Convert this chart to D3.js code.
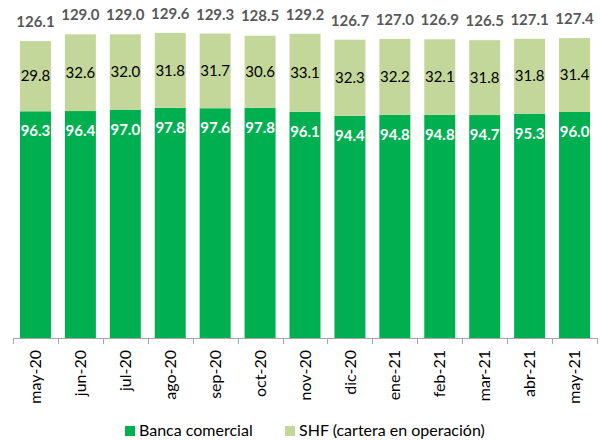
<!DOCTYPE html>
<html>
<head>
<meta charset="utf-8">
<script src="https://cdn.jsdelivr.net/npm/d3@7"></script>
<style>
  body { margin: 0; background: #fff; }
  text { font-family: Lato, "Open Sans", sans-serif; }
</style>
</head>
<body>
<div id="chart"></div>
<script>
// data
var months = ["may-20", "jun-20", "jul-20", "ago-20", "sep-20", "oct-20", "nov-20",
              "dic-20", "ene-21", "feb-21", "mar-21", "abr-21", "may-21"];
var banca = [96.3, 96.4, 97.0, 97.8, 97.6, 97.8, 96.1, 94.4, 94.8, 94.8, 94.7, 95.3, 96.0];
var shf = [29.8, 32.6, 32.0, 31.8, 31.7, 30.6, 33.1, 32.3, 32.2, 32.1, 31.8, 31.8, 31.4];
var totals = [126.1, 129.0, 129.0, 129.6, 129.3, 128.5, 129.2, 126.7, 127.0, 126.9, 126.5, 127.1, 127.4];
var seriesNames = ["Banca comercial", "SHF (cartera en operación)"];

var svgWidth = 600;
var svgHeight = 440;
var colors = ["#00b050", "#c4d79b"];

var svg = d3.select("#chart")
  .append("svg")
  .attr("width", svgWidth)
  .attr("height", svgHeight);

var rows = months.map(function(m, i) {
  return { month: m, banca: banca[i], shf: shf[i], total: totals[i] };
});

// scales
var xScale = d3.scaleBand()
  .domain(months)
  .range([13, 597])
  .paddingInner(0.31)
  .paddingOuter(0.155);

var yScale = d3.scaleLinear()
  .domain([0, 140])
  .range([338, 8.4]);

// bars
var groups = svg.selectAll(".bar")
  .data(rows)
  .enter()
  .append("g")
  .attr("class", "bar");

groups.append("rect")
  .attr("x", d => xScale(d.month))
  .attr("width", xScale.bandwidth())
  .attr("y", d => yScale(d.banca))
  .attr("height", d => yScale(0) - yScale(d.banca))
  .attr("fill", colors[0]);

groups.append("rect")
  .attr("x", d => xScale(d.month))
  .attr("width", xScale.bandwidth())
  .attr("y", d => yScale(d.banca + d.shf))
  .attr("height", d => yScale(d.banca) - yScale(d.banca + d.shf))
  .attr("fill", colors[1]);

// labels
groups.append("text")
  .attr("x", d => xScale(d.month) + xScale.bandwidth() / 2)
  .attr("y", d => yScale(d.banca) + 25)
  .attr("text-anchor", "middle")
  .style("font-size", "15px")
  .style("font-weight", "bold")
  .attr("fill", "#fff")
  .text(d => d.banca.toFixed(1));

groups.append("text")
  .attr("x", d => xScale(d.month) + xScale.bandwidth() / 2)
  .attr("y", d => yScale(d.banca + d.shf / 2))
  .attr("dy", "0.35em")
  .attr("text-anchor", "middle")
  .style("font-size", "15px")
  .attr("fill", "#000")
  .text(d => d.shf.toFixed(1));

groups.append("text")
  .attr("x", d => xScale(d.month) + xScale.bandwidth() / 2)
  .attr("y", d => yScale(d.total) - 14)
  .attr("text-anchor", "middle")
  .style("font-size", "15px")
  .style("font-weight", "bold")
  .attr("fill", "#595959")
  .text(d => d.total.toFixed(1));

// x axis
var axis = svg.append("g");
var step = xScale.step();
var half = step * xScale.paddingInner() / 2;

axis.append("line")
  .attr("x1", xScale.range()[0])
  .attr("x2", xScale.range()[1])
  .attr("y1", yScale(0) + 0.5)
  .attr("y2", yScale(0) + 0.5)
  .attr("stroke", "#a6a6a6");

var tickPos = months.map(m => xScale(m) - half).concat([xScale.range()[1]]);
axis.selectAll(".tick")
  .data(tickPos)
  .enter()
  .append("line")
  .attr("x1", d => Math.round(d) + 0.5)
  .attr("x2", d => Math.round(d) + 0.5)
  .attr("y1", yScale(0))
  .attr("y2", yScale(0) + 6)
  .attr("stroke", "#a6a6a6");

axis.selectAll(".lbl")
  .data(months)
  .enter()
  .append("text")
  .attr("transform", d => `translate(${xScale(d) + xScale.bandwidth() / 2}, ${yScale(0) + 12}) rotate(-90)`)
  .attr("dy", "0.35em")
  .attr("text-anchor", "end")
  .style("font-size", "16px")
  .attr("fill", "#000")
  .text(d => d);

// legend
var legendX = [125, 285];
var legend = svg.selectAll(".legend")
  .data(seriesNames)
  .enter()
  .append("g")
  .attr("transform", (d, i) => `translate(${legendX[i]}, 426)`);

legend.append("rect")
  .attr("width", 10)
  .attr("height", 10)
  .attr("fill", (d, i) => colors[i]);

legend.append("text")
  .attr("x", 14)
  .attr("y", 10)
  .style("font-size", "16px")
  .attr("fill", "#000")
  .text(d => d);
</script>
</body>
</html>
